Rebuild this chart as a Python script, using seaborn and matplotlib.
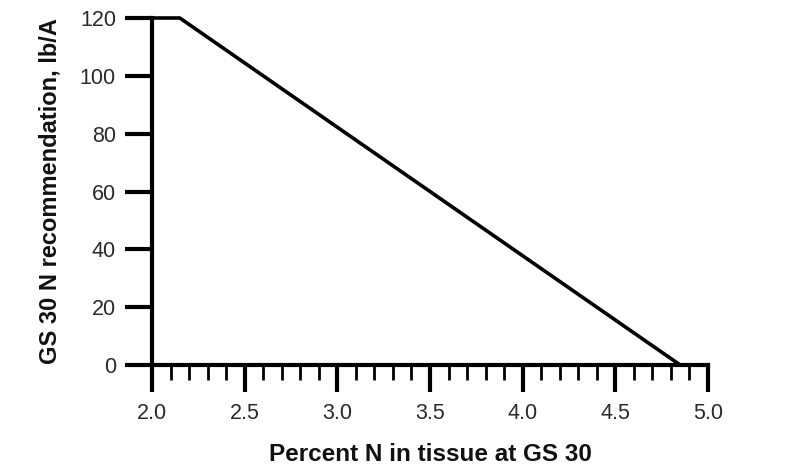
import matplotlib
matplotlib.use("Agg")
import matplotlib.pyplot as plt
import seaborn as sns
import pandas as pd
import numpy as np

tissue_n = [2.0, 2.15, 4.85]
n_rec = [120, 120, 0]
x_ticks = [2.0, 2.5, 3.0, 3.5, 4.0, 4.5, 5.0]
y_ticks = [0, 20, 40, 60, 80, 100, 120]

sns.set_theme(style="ticks")
plt.rcParams['font.family'] = ['Liberation Sans', 'DejaVu Sans']

df = pd.DataFrame({"x": tissue_n, "y": n_rec})
fig = plt.figure(figsize=(8, 4.7), dpi=100)
ax = fig.add_axes([0.19, 0.2234, 0.695, 0.7383])
sns.lineplot(data=df, x="x", y="y", sort=False, color="black", linewidth=2.6, ax=ax)

ax.set_xlim(2.0, 5.0)
ax.set_ylim(0, 120)
ax.set_xticks(x_ticks)
ax.set_xticklabels([f"{v:.1f}" for v in x_ticks])
ax.set_xticks(np.arange(2.1, 5.0, 0.1), minor=True)
ax.set_yticks(y_ticks)
ax.set_yticklabels([str(v) for v in y_ticks])

for s in ["top", "right"]:
    ax.spines[s].set_visible(False)
for s in ["left", "bottom"]:
    ax.spines[s].set_linewidth(3)
    ax.spines[s].set_color("black")
    ax.spines[s].set_capstyle("projecting")

ax.tick_params(axis="x", which="major", direction="out", length=19.5, width=3, color="black",
               labelsize=15.5, pad=7.5, labelcolor="#2a2a2a")
ax.tick_params(axis="x", which="minor", direction="out", length=11, width=2, color="black")
ax.tick_params(axis="y", which="major", direction="out", length=19.5, width=3, color="black",
               labelsize=15.5, pad=6.5, labelcolor="#2a2a2a")

ax.set_xlabel("Percent N in tissue at GS 30", fontsize=17.5, fontweight="bold", labelpad=14,
              color="#111111")
ax.set_ylabel("GS 30 N recommendation, lb/A", fontsize=17, fontweight="bold", labelpad=13,
              color="#111111")
ax.patch.set_alpha(0)
for l in ax.get_lines():
    l.set_clip_on(False)
    l.set_solid_capstyle("butt")

fig.savefig("out.png", dpi=100)
